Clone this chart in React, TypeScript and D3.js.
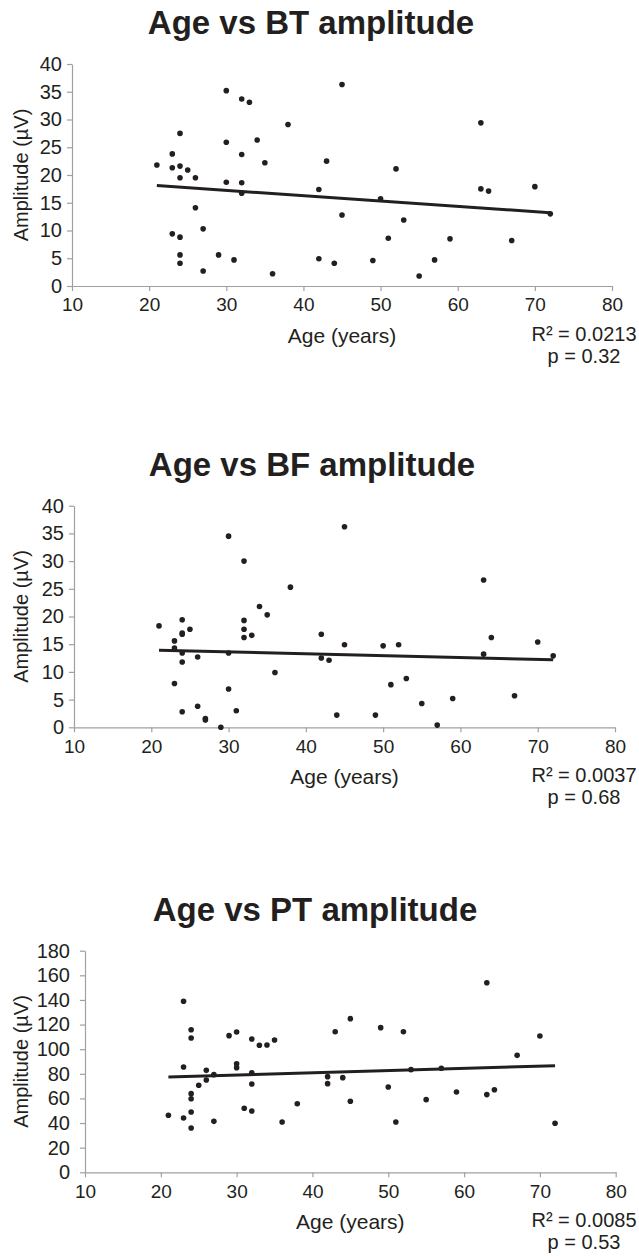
import React, { useEffect, useRef } from 'react';
import * as d3 from 'd3';

// subject ages (same subjects in all three panels)
const ages = [
  21, 23, 23, 23, 24, 24, 24, 24, 24, 24, 25, 26, 26, 27, 27, 29, 30, 30, 30, 31,
  32, 32, 32, 32, 33, 34, 35, 36, 38, 42, 42, 43, 44, 45, 45, 49, 50, 51, 52, 53,
  55, 57, 59, 63, 63, 64, 67, 70, 72,
];

const btAmplitude = [
  21.8, 23.8, 21.3, 9.4, 27.5, 21.6, 19.5, 8.8, 5.6, 4.1, 20.9, 19.5, 14.1, 10.3, 2.7, 5.6, 35.2, 25.9, 18.7, 4.7,
  33.7, 23.7, 18.6, 16.7, 33.1, 26.3, 22.2, 2.2, 29.1, 17.4, 4.9, 22.5, 4.1, 36.3, 12.8, 4.6, 15.7, 8.6, 21.1, 11.9,
  1.8, 4.7, 8.5, 29.4, 17.5, 17.1, 8.2, 17.9, 13.0,
];

const bfAmplitude = [
  18.3, 15.6, 14.3, 7.9, 19.4, 16.8, 13.4, 11.8, 2.8, 17.0, 17.7, 12.7, 3.8, 1.6, 1.3, 0.0, 34.5, 13.4, 6.9, 3.0,
  30.0, 19.3, 17.7, 16.2, 16.6, 21.8, 20.3, 9.9, 25.3, 16.8, 12.5, 12.1, 2.2, 36.2, 14.9, 2.2, 14.7, 7.7, 14.9, 8.8,
  4.3, 0.4, 5.2, 26.6, 13.2, 16.2, 5.7, 15.4, 12.9,
];

const ptAmplitude = [
  46.3, 138.9, 85.5, 44.1, 115.8, 109.1, 63.9, 59.8, 49.0, 36.0, 70.7, 82.8, 75.0, 79.3, 41.4, 111.0, 114.0, 88.2, 85.0, 52.0,
  108.3, 80.9, 71.7, 49.8, 103.2, 103.4, 107.5, 40.9, 55.7, 77.7, 72.0, 114.2, 76.9, 124.8, 57.7, 117.5, 69.3, 40.9, 114.2, 83.4,
  59.0, 84.5, 65.2, 154.0, 63.1, 67.1, 95.0, 110.7, 39.8,
];

// linear trend end points (age 21 and 72)
const trendAges = [21, 72];
const btTrend = [18.1, 13.2];
const bfTrend = [13.9, 12.2];
const ptTrend = [77.4, 86.6];

const xTicks = [10, 20, 30, 40, 50, 60, 70, 80];
const smallYTicks = [0, 5, 10, 15, 20, 25, 30, 35, 40];
const ptYTicks = [0, 20, 40, 60, 80, 100, 120, 140, 160, 180];

const panels = [
  { title: 'Age vs BT amplitude', values: btAmplitude, trend: btTrend, yTicks: smallYTicks, r2: 'R² = 0.0213', p: 'p = 0.32', top: 64, bottom: 286, left: 72, right: 612, titleX: 311, tickGap: 10 },
  { title: 'Age vs BF amplitude', values: bfAmplitude, trend: bfTrend, yTicks: smallYTicks, r2: 'R² = 0.0037', p: 'p = 0.68', top: 505.7, bottom: 727.3, left: 74, right: 615, titleX: 312, tickGap: 10 },
  { title: 'Age vs PT amplitude', values: ptAmplitude, trend: ptTrend, yTicks: ptYTicks, r2: 'R² = 0.0085', p: 'p = 0.53', top: 950.7, bottom: 1172.3, left: 85, right: 615.7, titleX: 315, tickGap: 15 },
];

const FONT = '"Liberation Sans", Arial, sans-serif';
const INK = '#231f20';
const AXIS = '#a0a0a0';

export default function App() {
  const svgRef = useRef<SVGSVGElement>(null);

  useEffect(() => {
    if (!svgRef.current) return;
    const svg = d3.select(svgRef.current);
    svg.selectAll('*').remove();

    panels.forEach(pn => {
      const g = svg.append('g');
      const yMax = pn.yTicks[pn.yTicks.length - 1];

      const x = d3.scaleLinear().domain([10, 80]).range([pn.left, pn.right]);
      const y = d3.scaleLinear().domain([0, yMax]).range([pn.bottom, pn.top]);

      // Title
      g.append('text')
        .attr('x', pn.titleX)
        .attr('y', pn.top - 30)
        .attr('text-anchor', 'middle')
        .style('font-family', FONT)
        .style('font-size', '33px')
        .style('font-weight', 'bold')
        .style('fill', INK)
        .text(pn.title);

      // Axes
      const xAxis = g.append('g')
        .attr('transform', `translate(0,${pn.bottom})`)
        .call(d3.axisBottom(x).tickValues(xTicks).tickSize(5).tickSizeOuter(0).tickPadding(7));
      const yAxis = g.append('g')
        .attr('transform', `translate(${pn.left},0)`)
        .call(d3.axisLeft(y).tickValues(pn.yTicks).tickSize(5).tickSizeOuter(0).tickPadding(pn.tickGap - 5));

      [xAxis, yAxis].forEach(a => {
        a.selectAll('path, line').attr('stroke', AXIS).attr('stroke-width', 1.2);
        a.selectAll('text')
          .style('font-family', FONT)
          .style('fill', INK);
      });
      xAxis.selectAll('text').style('font-size', '19px');
      yAxis.selectAll('text').style('font-size', '20px');

      // Axis labels
      g.append('text')
        .attr('x', (pn.left + pn.right) / 2)
        .attr('y', pn.bottom + 57)
        .attr('text-anchor', 'middle')
        .style('font-family', FONT)
        .style('font-size', '21px')
        .style('fill', INK)
        .text('Age (years)');

      g.append('text')
        .attr('transform', 'rotate(-90)')
        .attr('x', -(pn.top + pn.bottom) / 2)
        .attr('y', 27.5)
        .attr('text-anchor', 'middle')
        .style('font-family', FONT)
        .style('font-size', '20px')
        .style('fill', INK)
        .text('Amplitude (µV)');

      // Points
      g.append('g')
        .selectAll('circle')
        .data(ages.map((a, i) => ({ age: a, amp: pn.values[i] })))
        .join('circle')
        .attr('cx', d => x(d.age))
        .attr('cy', d => y(d.amp))
        .attr('r', 2.8)
        .attr('fill', INK);

      // Trend line
      const line = d3.line<number>()
        .x((_, i) => x(trendAges[i]))
        .y(d => y(d));
      g.append('path')
        .datum(pn.trend)
        .attr('fill', 'none')
        .attr('stroke', INK)
        .attr('stroke-width', 3)
        .attr('d', line);

      // Stats
      g.append('text')
        .attr('x', 584)
        .attr('y', pn.bottom + 55)
        .attr('text-anchor', 'middle')
        .style('font-family', FONT)
        .style('font-size', '20px')
        .style('fill', INK)
        .text(pn.r2);

      g.append('text')
        .attr('x', 584)
        .attr('y', pn.bottom + 77)
        .attr('text-anchor', 'middle')
        .style('font-family', FONT)
        .style('font-size', '20px')
        .style('fill', INK)
        .text(pn.p);
    });
  }, []);

  return (
    <div style={{ position: 'absolute', left: 0, top: 0, background: '#fff' }}>
      <svg ref={svgRef} width={639} height={1256}></svg>
    </div>
  );
}
